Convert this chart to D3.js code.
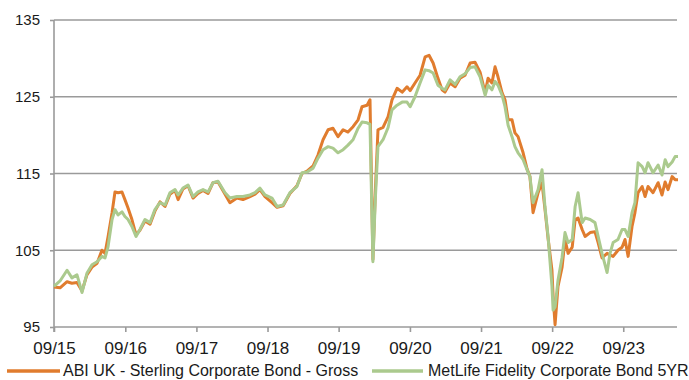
<!DOCTYPE html>
<html>
<head>
<meta charset="utf-8">
<script src="https://cdn.jsdelivr.net/npm/d3@7"></script>
<style>
  html, body { margin: 0; padding: 0; background: #fff; }
  svg { display: block; font-family: "Liberation Sans", Arial, sans-serif; }
</style>
</head>
<body>
<svg id="chart" width="689" height="380"></svg>
<script>
// Observation dates (shared by both series)
const dates = [
  "2015-09-30","2015-10-31","2015-12-06","2015-12-31","2016-01-26","2016-02-21","2016-03-17","2016-04-12",
  "2016-05-08","2016-06-02","2016-06-18","2016-07-03","2016-07-24","2016-08-08","2016-08-24","2016-09-13",
  "2016-09-28","2016-10-14","2016-11-03","2016-11-24","2016-12-14","2017-01-09","2017-02-04","2017-03-01",
  "2017-03-27","2017-04-22","2017-05-17","2017-06-12","2017-06-28","2017-07-23","2017-08-18","2017-09-13",
  "2017-10-08","2017-11-03","2017-11-29","2017-12-24","2018-01-19","2018-02-24","2018-03-21","2018-04-26",
  "2018-05-27","2018-07-02","2018-07-28","2018-08-22","2018-09-17","2018-10-23","2018-11-18","2018-12-19",
  "2019-01-23","2019-02-28","2019-03-26","2019-04-21","2019-05-22","2019-06-16","2019-07-12","2019-08-07",
  "2019-09-01","2019-09-27","2019-10-23","2019-11-17","2019-12-13","2020-01-08","2020-01-28","2020-02-23",
  "2020-03-09","2020-03-24","2020-04-06","2020-04-19","2020-05-15","2020-06-10","2020-06-30","2020-07-26",
  "2020-08-21","2020-09-15","2020-10-01","2020-10-26","2020-11-21","2020-12-17","2021-01-06","2021-01-27",
  "2021-02-21","2021-03-14","2021-03-29","2021-04-24","2021-05-20","2021-06-14","2021-07-10","2021-08-05",
  "2021-08-30","2021-09-25","2021-10-21","2021-11-05","2021-11-25","2021-12-11","2021-12-26","2022-01-16",
  "2022-01-31","2022-02-16","2022-03-08","2022-03-23","2022-04-08","2022-05-04","2022-05-24","2022-06-08",
  "2022-06-24","2022-07-20","2022-08-09","2022-08-24","2022-09-09","2022-09-29","2022-10-05","2022-10-15",
  "2022-10-30","2022-11-20","2022-12-05","2022-12-21","2023-01-11","2023-01-26","2023-02-10","2023-03-03",
  "2023-03-18","2023-04-13","2023-05-08","2023-05-24","2023-06-13","2023-07-09","2023-07-24","2023-08-09",
  "2023-09-03","2023-09-24","2023-10-09","2023-10-25","2023-11-14","2023-11-29","2023-12-15","2024-01-05",
  "2024-01-20","2024-02-04","2024-03-01","2024-03-27","2024-04-16","2024-05-02","2024-05-17","2024-06-07",
  "2024-06-22","2024-07-07"
];

// ABI UK - Sterling Corporate Bond - Gross (rebased)
const abiValues = [
  100.2,100.1,100.9,100.7,100.8,99.7,101.8,102.8,
  103.3,105.0,104.6,106.7,109.9,112.6,112.5,112.6,
  111.6,110.5,109.0,107.0,107.6,108.8,108.4,110.1,
  111.3,110.7,112.3,112.8,111.6,113.0,113.4,111.8,
  112.4,112.8,112.4,113.8,113.9,112.3,111.2,111.8,
  111.6,112.0,112.3,112.9,112.0,111.2,110.6,110.8,
  112.4,113.4,115.0,115.3,116.0,117.4,119.4,120.7,
  120.9,119.8,120.7,120.4,121.1,122.0,123.7,123.9,
  124.6,103.8,113.0,120.7,121.0,122.4,124.6,126.1,
  125.6,126.3,125.8,126.8,127.8,130.2,130.4,129.4,
  127.4,125.9,125.6,126.8,126.3,127.4,127.8,129.4,
  129.5,128.2,125.5,127.4,126.8,128.9,127.6,125.5,
  124.6,122.0,122.0,120.3,119.8,117.7,115.6,114.6,
  109.9,112.5,113.8,110.4,106.6,102.4,99.0,95.3,
  100.3,102.8,106.4,104.6,105.4,109.0,109.2,107.7,
  106.8,107.3,107.4,106.0,104.0,104.6,104.4,104.2,
  105.0,105.4,106.4,104.2,108.1,109.9,112.5,113.3,
  112.0,113.3,112.5,113.8,112.2,113.9,112.9,114.6,
  114.2,114.2
];

// MetLife Fidelity Corporate Bond 5YR (rebased)
const metlifeValues = [
  100.3,101.0,102.4,101.4,101.8,99.5,102.0,103.1,
  103.5,104.2,104.0,105.4,109.0,110.3,109.6,110.0,
  109.4,109.0,108.1,106.8,107.7,109.0,108.6,110.3,
  111.2,110.9,112.5,112.9,112.2,113.1,113.5,112.0,
  112.6,112.9,112.6,113.8,114.0,112.5,111.8,112.0,
  112.0,112.2,112.5,113.1,112.2,111.8,110.7,110.9,
  112.5,113.3,115.1,115.2,115.7,117.0,118.1,118.5,
  118.3,117.7,118.1,118.7,119.4,120.9,121.7,121.6,
  121.4,103.5,112.0,118.5,119.4,121.0,123.3,123.9,
  124.3,124.3,123.7,125.0,126.8,128.5,128.4,128.1,
  126.5,126.1,125.9,127.2,126.6,127.6,128.0,128.8,
  128.9,127.6,125.2,126.5,125.9,127.0,126.5,125.2,
  123.7,121.3,119.8,118.5,117.7,116.8,115.5,114.6,
  111.2,112.9,115.5,110.7,106.8,100.3,97.2,97.6,
  101.1,104.1,107.3,106.0,106.4,110.7,112.5,108.6,
  109.2,109.0,108.6,106.8,104.6,102.1,104.6,106.0,
  106.4,107.7,107.7,106.8,109.9,111.2,116.4,115.9,
  115.1,116.4,115.1,116.1,114.8,116.8,115.9,116.5,
  117.2,117.2
];

const yTicks = [95, 105, 115, 125, 135];
const xTickDates = ["2015-09-30","2016-09-30","2017-09-30","2018-09-30","2019-09-30",
                    "2020-09-30","2021-09-30","2022-09-30","2023-09-30"];
const seriesNames = ["ABI UK - Sterling Corporate Bond - Gross", "MetLife Fidelity Corporate Bond 5YR"];
const seriesColors = ["#E07C2E", "#ABCA8E"];

const parse = d3.timeParse("%Y-%m-%d");
const svg = d3.select("#chart");

const plotLeft = 54, plotRight = 678, plotTop = 20, plotBottom = 327;

const x = d3.scaleTime()
  .domain([parse("2015-09-30"), parse("2024-07-07")])
  .range([plotLeft, plotRight]);
const y = d3.scaleLinear().domain([95, 135]).range([plotBottom, plotTop]);

// Horizontal gridlines
svg.append("g")
  .selectAll("line")
  .data(yTicks)
  .join("line")
  .attr("x1", plotLeft).attr("x2", plotRight - 1)
  .attr("y1", d => y(d)).attr("y2", d => y(d))
  .attr("stroke", "#9a9a9a").attr("stroke-width", 1.6);

// Y axis
const yAxis = svg.append("g")
  .attr("transform", `translate(${plotLeft},0)`)
  .call(d3.axisLeft(y).tickValues(yTicks).tickSize(4).tickPadding(10).tickFormat(d3.format("d")));
yAxis.select(".domain").attr("stroke", "#9a9a9a").attr("stroke-width", 1.6)
  .attr("d", `M0,${plotTop}V${plotBottom + 5}`);
yAxis.selectAll(".tick line").attr("stroke", "#9a9a9a").attr("stroke-width", 1.6);
yAxis.selectAll(".tick text").attr("font-size", 15).attr("fill", "#1a1a1a")
  .attr("font-family", "Liberation Sans, Arial, sans-serif");

// X axis
const xAxis = svg.append("g")
  .attr("transform", `translate(0,${plotBottom})`)
  .call(d3.axisBottom(x).tickValues(xTickDates.map(parse)).tickSize(5).tickPadding(10)
    .tickFormat(d3.timeFormat("%m/%y")));
xAxis.select(".domain").remove();
xAxis.selectAll(".tick line").attr("stroke", "#9a9a9a").attr("stroke-width", 1.6);
xAxis.selectAll(".tick text").attr("font-size", 17).attr("fill", "#1a1a1a")
  .attr("font-family", "Liberation Sans, Arial, sans-serif");

// Series lines
const line = d3.line()
  .x((d, i) => x(parse(dates[i])))
  .y(d => y(d));

[abiValues, metlifeValues].forEach((vals, k) => {
  svg.append("path")
    .datum(vals)
    .attr("fill", "none")
    .attr("stroke", seriesColors[k])
    .attr("stroke-width", 3)
    .attr("stroke-linejoin", "round")
    .attr("d", line);
});

// Legend
const legendItems = [
  { x1: 7, x2: 60, tx: 63 },
  { x1: 372, x2: 423, tx: 428 }
];
const legend = svg.append("g");
legendItems.forEach((it, k) => {
  legend.append("line")
    .attr("x1", it.x1).attr("x2", it.x2)
    .attr("y1", 371).attr("y2", 371)
    .attr("stroke", seriesColors[k]).attr("stroke-width", 3.5);
  legend.append("text")
    .attr("x", it.tx).attr("y", 376)
    .attr("font-size", 16).attr("fill", "#1a1a1a")
    .text(seriesNames[k]);
});
</script>
</body>
</html>
